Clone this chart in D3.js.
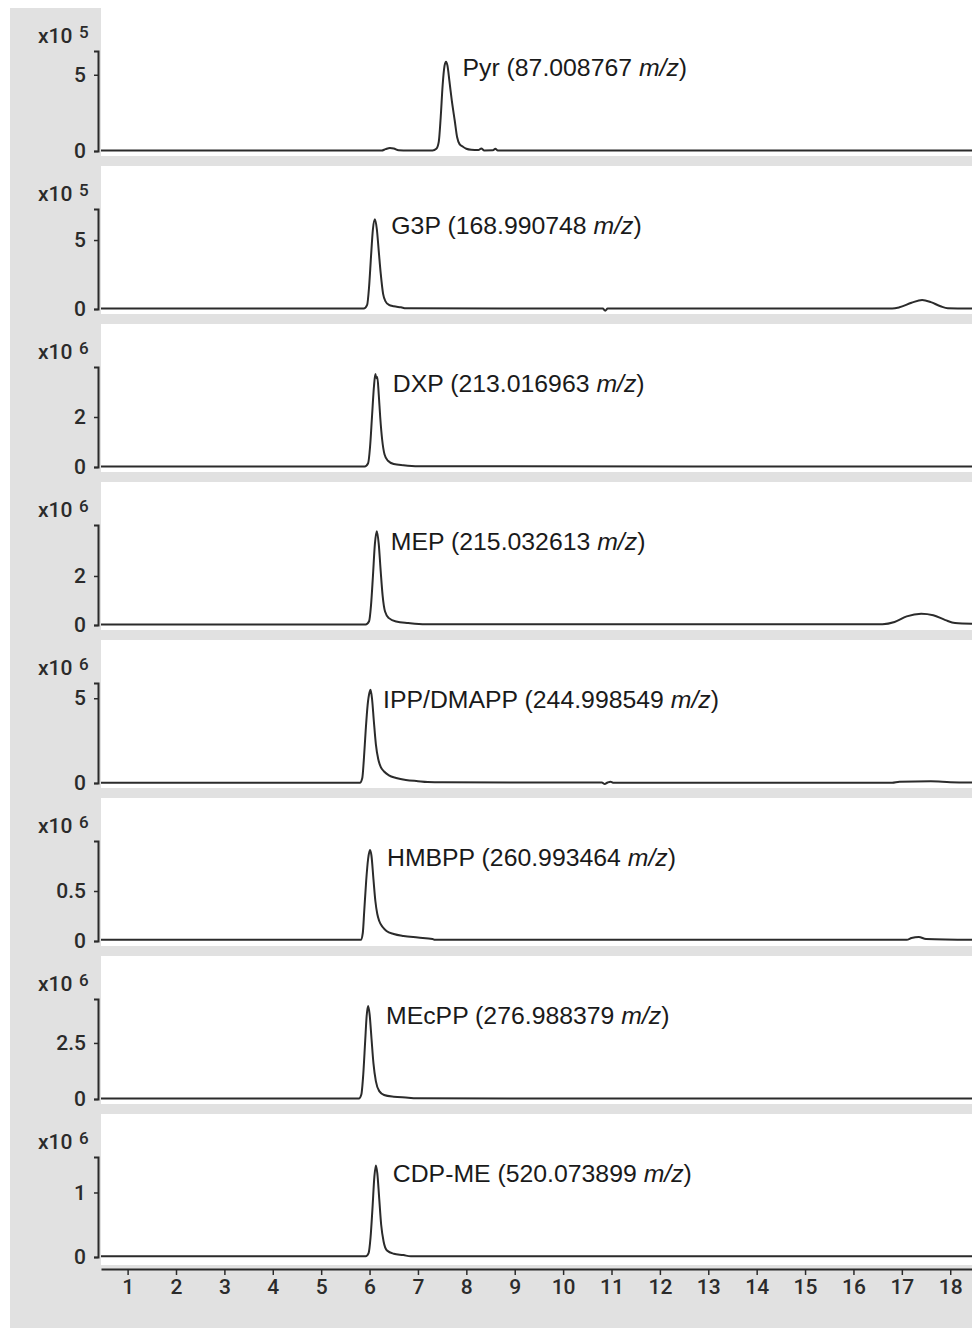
<!DOCTYPE html>
<html>
<head>
<meta charset="utf-8">
<script src="https://cdn.jsdelivr.net/npm/d3@7"></script>
<style>
  body { margin: 0; background: #fff; }
  svg { display: block; }
</style>
</head>
<body>
<svg id="drawing_region"></svg>
<script>
// compound names, m/z labels, and y-axis settings
const names = ['Pyr', 'G3P', 'DXP', 'MEP', 'IPP/DMAPP', 'HMBPP', 'MEcPP', 'CDP-ME'];
const mzValues = ['87.008767', '168.990748', '213.016963', '215.032613', '244.998549', '260.993464', '276.988379', '520.073899'];
const exponents = [5, 5, 6, 6, 6, 6, 6, 6];
const yMaxes = [6.56, 7.25, 4.0, 4.08, 5.9, 1.0, 4.46, 1.55];
const yTicks = [5, 5, 2, 2, 5, 0.5, 2.5, 1];
const labelTimes = [7.92, 6.45, 6.48, 6.44, 6.28, 6.36, 6.34, 6.48];
const xTicks = [1, 2, 3, 4, 5, 6, 7, 8, 9, 10, 11, 12, 13, 14, 15, 16, 17, 18];

// traces: [retention time (min), intensity in units of 10^exponent]
const pyr = [[0.45,0.03],[6.25,0.03],[6.33,0.12],[6.42,0.2],[6.5,0.17],[6.6,0.05],[6.8,0.03],[7.3,0.04],[7.38,0.15],[7.43,0.6],[7.47,2.2],[7.51,4.3],[7.55,5.6],[7.58,5.86],[7.61,5.6],[7.65,4.6],[7.7,3.3],[7.76,2.0],[7.81,0.9],[7.86,0.45],[7.93,0.28],[8.0,0.15],[8.1,0.08],[8.25,0.06],[8.31,0.16],[8.37,0.04],[8.55,0.05],[8.6,0.15],[8.65,0.03],[18.45,0.03]];
const g3p = [[0.45,0.03],[5.88,0.03],[5.95,0.3],[5.99,1.6],[6.03,3.8],[6.07,5.8],[6.11,6.5],[6.15,5.8],[6.19,4.2],[6.23,2.6],[6.28,1.1],[6.33,0.55],[6.4,0.3],[6.5,0.2],[6.65,0.12],[6.75,0.05],[10.82,0.03],[10.87,-0.12],[10.92,0.03],[16.8,0.03],[16.95,0.12],[17.2,0.45],[17.42,0.65],[17.6,0.5],[17.8,0.2],[17.95,0.05],[18.45,0.03]];
const dxp = [[0.45,0.02],[5.9,0.02],[5.97,0.15],[6.01,0.8],[6.05,2.0],[6.09,3.2],[6.12,3.72],[6.14,3.55],[6.16,3.6],[6.19,2.9],[6.22,2.0],[6.26,1.1],[6.31,0.5],[6.38,0.25],[6.5,0.12],[6.7,0.07],[7.0,0.03],[18.45,0.02]];
const mep = [[0.45,0.02],[5.92,0.02],[5.99,0.15],[6.03,0.8],[6.07,2.0],[6.11,3.3],[6.15,3.83],[6.19,3.3],[6.23,2.2],[6.27,1.2],[6.32,0.55],[6.4,0.28],[6.55,0.14],[6.8,0.08],[7.15,0.03],[16.6,0.03],[16.85,0.12],[17.1,0.35],[17.4,0.46],[17.65,0.4],[17.9,0.2],[18.1,0.08],[18.45,0.05]];
const ipp = [[0.45,0.02],[5.8,0.02],[5.85,0.3],[5.88,1.3],[5.92,3.1],[5.96,4.6],[6.0,5.35],[6.02,5.5],[6.05,5.0],[6.09,3.6],[6.13,2.3],[6.18,1.4],[6.23,0.95],[6.3,0.68],[6.4,0.45],[6.55,0.3],[6.75,0.18],[7.0,0.11],[7.2,0.06],[7.5,0.04],[10.8,0.03],[10.86,-0.06],[10.92,0.03],[10.98,0.08],[11.03,0.02],[16.8,0.02],[16.95,0.08],[17.6,0.1],[18.0,0.05],[18.45,0.03]];
const hmbpp = [[0.45,0.012],[5.82,0.012],[5.86,0.08],[5.89,0.3],[5.93,0.6],[5.97,0.82],[6.01,0.91],[6.04,0.85],[6.08,0.62],[6.12,0.4],[6.16,0.27],[6.2,0.2],[6.27,0.14],[6.35,0.1],[6.5,0.07],[6.7,0.05],[7.0,0.035],[7.3,0.02],[7.35,0.012],[17.1,0.012],[17.2,0.03],[17.35,0.04],[17.5,0.02],[18.45,0.012]];
const mecpp = [[0.45,0.02],[5.78,0.02],[5.83,0.2],[5.87,1.1],[5.91,2.6],[5.94,3.7],[5.97,4.15],[6.0,3.8],[6.04,2.7],[6.08,1.6],[6.13,0.8],[6.2,0.35],[6.3,0.18],[6.5,0.1],[6.8,0.06],[6.95,0.03],[18.45,0.02]];
const cdpme = [[0.45,0.01],[5.92,0.01],[5.98,0.06],[6.02,0.3],[6.06,0.75],[6.1,1.25],[6.13,1.42],[6.16,1.3],[6.2,0.9],[6.24,0.5],[6.29,0.24],[6.36,0.1],[6.5,0.05],[6.7,0.03],[6.85,0.01],[18.45,0.01]];
const traces = [pyr, g3p, dxp, mep, ipp, hmbpp, mecpp, cdpme];

const width = 972, height = 1328;
const plotLeft = 101, plotRight = 972;
const firstZero = 151, panelStep = 158, axisHeight = 100;
const ink = '#2b2b2b';

const svg = d3.select('#drawing_region')
    .attr('width', width)
    .attr('height', height);

// grey frame behind everything
svg.append('rect')
    .attr('x', 10).attr('y', 8)
    .attr('width', width - 10).attr('height', height - 8)
    .attr('fill', '#e1e1e1');

const xscale = d3.scaleLinear().domain([0.45, 18.45]).range([plotLeft, plotRight]);

const line = d3.line()
    .x(d => xscale(d[0]))
    .curve(d3.curveMonotoneX);

traces.forEach((trace, i) => {
    const zero = firstZero + panelStep * i;
    const last = i === traces.length - 1;
    const g = svg.append('g');

    // white plot area
    g.append('rect')
        .attr('x', plotLeft)
        .attr('y', i === 0 ? 8 : zero - 143)
        .attr('width', plotRight - plotLeft)
        .attr('height', (i === 0 ? zero - 8 : 143) + (last ? 8 : 5))
        .attr('fill', '#fff');

    const yscale = d3.scaleLinear().domain([0, yMaxes[i]]).range([zero, zero - axisHeight]);

    // y axis
    const yaxis = d3.axisLeft(yscale)
        .tickValues([0, yTicks[i]])
        .tickFormat(d => d)
        .tickSize(4)
        .tickSizeOuter(4)
        .tickPadding(8);
    const ya = g.append('g')
        .attr('transform', 'translate(98,0)')
        .call(yaxis);
    ya.select('.domain').attr('stroke', ink).attr('stroke-width', 2);
    ya.selectAll('.tick line').attr('stroke', ink).attr('stroke-width', 1.5);
    ya.selectAll('.tick text')
        .attr('fill', ink)
        .style('font-family', 'Roboto, sans-serif')
        .style('font-weight', 500)
        .style('font-size', '21px');

    // x10^n label
    const mult = g.append('text')
        .attr('x', 38).attr('y', zero - 108)
        .attr('fill', ink)
        .style('font-family', 'Roboto, sans-serif')
        .style('font-weight', 500)
        .style('font-size', '21px')
        .text('x10');
    mult.append('tspan')
        .attr('x', 79).attr('y', zero - 113)
        .style('font-size', '17px')
        .text(exponents[i]);

    // trace
    g.append('path')
        .datum(trace)
        .attr('d', line.y(d => yscale(d[1])))
        .attr('fill', 'none')
        .attr('stroke', ink)
        .attr('stroke-width', 2)
        .attr('stroke-linejoin', 'round');

    // compound label
    const lbl = g.append('text')
        .attr('x', xscale(labelTimes[i]))
        .attr('y', zero - 75)
        .attr('fill', '#1a1a1a')
        .style('font-family', '"Liberation Sans", Arial, sans-serif')
        .style('font-size', '24.8px')
        .text(`${names[i]} (${mzValues[i]} `);
    lbl.append('tspan').style('font-style', 'italic').text('m/z');
    lbl.append('tspan').text(')');
});

// shared x axis
const xaxis = d3.axisBottom(xscale)
    .tickValues(xTicks)
    .tickSize(6)
    .tickSizeOuter(0)
    .tickPadding(4);
const xa = svg.append('g')
    .attr('transform', 'translate(0,1269)')
    .call(xaxis);
xa.select('.domain').attr('stroke', ink).attr('stroke-width', 2);
xa.selectAll('.tick line').attr('stroke', ink).attr('stroke-width', 1.5);
xa.selectAll('.tick text')
    .attr('fill', ink)
    .style('font-family', 'Roboto, sans-serif')
    .style('font-weight', 500)
    .style('font-size', '21px');
</script>
</body>
</html>
